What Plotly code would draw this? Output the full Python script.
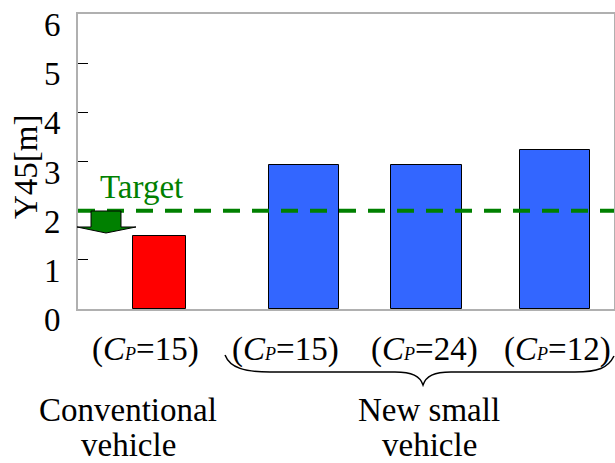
import plotly.graph_objects as go

# ---- data ----
categories = ["Conventional", "New small 1", "New small 2", "New small 3"]
cp_values = [15, 15, 24, 12]
y45_values = [1.48, 2.93, 2.93, 3.23]
bar_colors = ["#FF0000", "#3366FF", "#3366FF", "#3366FF"]
target_value = 2.0
group_label_lines = [["Conventional", "vehicle"], ["New small", "vehicle"]]
y_ticks = [0, 1, 2, 3, 4, 5, 6]
y_tick_labels = ["0", "1", "2", "3", "4", "5", "6"]

# ---- layout constants (positions only) ----
W, H = 615, 463
ML, MR, MT, MB = 78, 1, 14, 154
x_pos = [0.76, 2.11, 3.25, 4.45]
x_width = [0.50, 0.65, 0.66, 0.65]
XR = [0, 5]
FONT = "Liberation Serif, Times New Roman, serif"
FS = 33

pw = W - ML - MR
ph = H - MT - MB

def px_to_paper(px, py):
    return (px - ML) / pw, (H - MB - py) / ph

fig = go.Figure()
fig.add_trace(go.Bar(
    x=x_pos, y=y45_values, width=x_width,
    marker=dict(color=bar_colors, line=dict(color="#000000", width=1)),
    showlegend=False, hoverinfo="skip"))

fig.add_shape(type="line", xref="paper", yref="y", x0=0, x1=1,
              y0=target_value, y1=target_value,
              line=dict(color="#008000", width=4, dash="17px,12px"))

def pp(px, py):
    x, y = px_to_paper(px, py)
    return f"{x:.4f},{y:.4f}"
arrow = ("M " + pp(91, 211) + " L " + pp(121, 211) + " L " + pp(121, 227) +
         " L " + pp(136, 227) + " L " + pp(106, 233) + " L " + pp(77, 227) +
         " L " + pp(91, 227) + " Z")
fig.add_shape(type="path", xref="paper", yref="paper", path=arrow,
              fillcolor="#008000", line=dict(color="#000000", width=1))

fig.add_annotation(text="Target", xref="paper", yref="paper",
                   x=px_to_paper(141, 0)[0], y=px_to_paper(0, 187)[1],
                   showarrow=False, xanchor="center", yanchor="middle",
                   font=dict(family=FONT, size=FS, color="#008000"))

# y tick labels (drawn slightly below their ticks, as in the reference)
for v, t in zip(y_ticks, y_tick_labels):
    fig.add_annotation(text=t, xref="paper", yref="y",
                       x=px_to_paper(63, 0)[0], y=v, yshift=-11,
                       showarrow=False, xanchor="right", yanchor="middle",
                       font=dict(family=FONT, size=FS, color="#000000"))

label_x_px = [145, 285, 424, 557]
for lx, cp in zip(label_x_px, cp_values):
    fig.add_annotation(
        text=f"(<i>C</i><span style='font-size:18px'><i>P</i></span>={cp})",
        xref="paper", yref="paper", x=px_to_paper(lx, 0)[0], y=px_to_paper(0, 349)[1],
        showarrow=False, xanchor="center", yanchor="middle",
        font=dict(family=FONT, size=FS, color="#000000"))

brace = ("M " + pp(225, 355) + " C " + pp(230, 368) + " " + pp(245, 372) + " " + pp(270, 372) +
         " L " + pp(395, 372) + " C " + pp(412, 372) + " " + pp(420, 376) + " " + pp(423, 385) +
         " C " + pp(426, 376) + " " + pp(434, 372) + " " + pp(451, 372) +
         " L " + pp(575, 372) + " C " + pp(598, 372) + " " + pp(608, 368) + " " + pp(614, 356))
fig.add_shape(type="path", xref="paper", yref="paper", path=brace,
              line=dict(color="#000000", width=1.5))

group_x_px = [128, 429]
line_y_px = [410, 445]
for gx, lines in zip(group_x_px, group_label_lines):
    for ly, txt in zip(line_y_px, lines):
        fig.add_annotation(text=txt, xref="paper", yref="paper",
                           x=px_to_paper(gx, 0)[0], y=px_to_paper(0, ly)[1],
                           showarrow=False, xanchor="center", yanchor="middle",
                           font=dict(family=FONT, size=FS, color="#000000"))

fig.add_annotation(text="Y45[m]", xref="paper", yref="paper",
                   x=px_to_paper(26, 0)[0], y=px_to_paper(0, 167)[1],
                   textangle=-90, showarrow=False, xanchor="center", yanchor="middle",
                   font=dict(family=FONT, size=FS, color="#000000"))

fig.update_layout(
    width=W, height=H, margin=dict(l=ML, r=MR, t=MT, b=MB, autoexpand=False),
    paper_bgcolor="white", plot_bgcolor="white",
    font=dict(family=FONT, size=FS, color="#000000"),
    xaxis=dict(range=XR, showticklabels=False, ticks="", showgrid=False, zeroline=False,
               showline=True, linecolor="#b0b0b0", linewidth=2, mirror=True, fixedrange=True),
    yaxis=dict(range=[0, 6], tickvals=y_ticks, showticklabels=False, ticks="inside",
               ticklen=10, tickwidth=1, tickcolor="#000000", showgrid=False, zeroline=False,
               showline=True, linecolor="#b0b0b0", linewidth=2, mirror=True),
    bargap=0,
)

fig.write_html("out.html", config={"displayModeBar": False},
               post_script="document.body.style.margin='0';document.body.style.overflow='hidden';")
